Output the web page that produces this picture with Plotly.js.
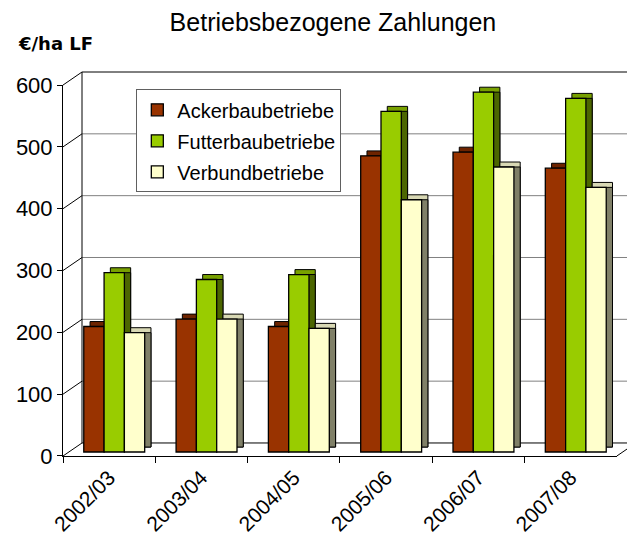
<!DOCTYPE html>
<html><head><meta charset="utf-8">
<script src="https://cdn.plot.ly/plotly-3.0.1.min.js"></script>
<style>html,body{margin:0;padding:0;background:#fff}#chart{width:627px;height:541px}</style>
</head><body><div id="chart"></div>
<script>
// ---- data ----
const categories = ['2002/03','2003/04','2004/05','2005/06','2006/07','2007/08'];
const ackerbau  = [203, 215, 203, 479, 485, 459];
const futterbau = [290, 279, 287, 551, 582, 572];
const verbund   = [193, 215, 200, 408, 461, 428];
const seriesNames = ['Ackerbaubetriebe','Futterbaubetriebe','Verbundbetriebe'];
const yTicks = [0, 100, 200, 300, 400, 500, 600];

// ---- styling ----
const series = [ackerbau, futterbau, verbund];
const frontColors = ['#993300','#99cc00','#ffffcc'];
const topColors   = ['#6e2400','#78a000','#d8d8b4'];
const sideColors  = ['#5a1e00','#4c6600','#808068'];
const offsets = [-0.275, -0.055, 0.165];
const W = 0.22, DX = 0.068, DY = 8;
const FONT = '"Liberation Sans", Arial, sans-serif';

const traces = [];
// invisible trace on the labelled front axis so that the axis is drawn
traces.push({type:'scatter', x:categories, y:ackerbau, mode:'markers', marker:{opacity:0},
  xaxis:'x', yaxis:'y', showlegend:false, hoverinfo:'skip'});
series.forEach((vals, i) => {
  traces.push({type:'bar', x:categories, y:vals, base:DY, offset:offsets[i]+DX, width:W,
    marker:{color:topColors[i], line:{color:'#000', width:1}},
    yaxis:'y2', showlegend:false, hoverinfo:'skip'});
  traces.push({type:'bar', x:categories, y:vals.map(v => v - DY), base:DY, offset:offsets[i]+DX, width:W,
    marker:{color:sideColors[i], line:{color:'#000', width:1}},
    yaxis:'y2', showlegend:false, hoverinfo:'skip'});
});
series.forEach((vals, i) => {
  traces.push({type:'bar', name:seriesNames[i], legendgroup:'g'+i, x:categories, y:vals, base:0,
    offset:offsets[i], width:W,
    marker:{color:frontColors[i], line:{color:'#000', width:1.3}},
    yaxis:'y2'});
});

// wall geometry (fractions of plot area)
const FRONT_X1 = 0.982, BACK_X0 = 0.0337, BACK_Y0 = 0.0339, FRONT_YTOP = 0.966;
const backY = v => BACK_Y0 + v/600*(1-BACK_Y0);
const shapes = [];
yTicks.forEach(v => shapes.push({type:'line', xref:'paper', yref:'paper', layer:'below',
  x0:BACK_X0, x1:1.05, y0:backY(v), y1:backY(v),
  line:{color:(v === 0 || v === 600) ? '#000' : '#808080', width:1}}));
shapes.push({type:'line', xref:'paper', yref:'paper', layer:'below',
  x0:BACK_X0, x1:BACK_X0, y0:backY(0), y1:backY(600), line:{color:'#000', width:1}});
yTicks.forEach(v => shapes.push({type:'line', xref:'paper', yref:'paper', layer:'below',
  x0:0, y0:v/600*FRONT_YTOP, x1:BACK_X0, y1:backY(v), line:{color:'#000', width:1}}));
shapes.push({type:'line', xref:'paper', yref:'paper', layer:'below', x0:FRONT_X1, y0:0,
  x1:FRONT_X1+BACK_X0, y1:BACK_Y0, line:{color:'#000', width:1}});

const layout = {
  width:627, height:541,
  margin:{l:63, r:0, t:72, b:85, autoexpand:false},
  paper_bgcolor:'#fff', plot_bgcolor:'rgba(0,0,0,0)',
  font:{family:FONT, color:'#000'},
  barmode:'overlay',
  hovermode:false,
  title:{text:'Betriebsbezogene Zahlungen', font:{family:FONT, size:25, color:'#000'},
    x:0.531, xref:'container', xanchor:'center', y:0.958, yref:'container', yanchor:'middle'},
  xaxis:{domain:[0, FRONT_X1], type:'category', range:[-0.5, 5.5], showline:true,
    linecolor:'#000', linewidth:1, ticks:'outside', ticklen:6, tickcolor:'#000', tickson:'boundaries',
    tickangle:-45, ticklabelstandoff:0, tickfont:{family:FONT, size:21, color:'#000'},
    showgrid:false, zeroline:false, fixedrange:true},
  yaxis:{domain:[0, FRONT_YTOP], range:[0,600], tickvals:yTicks, showline:true,
    linecolor:'#000', linewidth:1, ticks:'outside', ticklen:5, tickcolor:'#000',
    tickfont:{family:FONT, size:22, color:'#000'}, showgrid:false, zeroline:false, fixedrange:true},
  yaxis2:{overlaying:'y', range:[-6.5, 593.5], visible:false, fixedrange:true},
  legend:{x:0.13, y:0.955, xanchor:'left', yanchor:'top', bgcolor:'#fff', bordercolor:'#606060',
    borderwidth:1, font:{family:FONT, size:20, color:'#000'}, traceorder:'grouped', tracegroupgap:2},
  shapes:shapes,
  annotations:[{text:'<b>€/ha LF</b>', xref:'paper', yref:'paper', x:-0.083, y:1.0755,
    xanchor:'left', yanchor:'middle', showarrow:false,
    font:{family:'"DejaVu Sans", sans-serif', size:18, color:'#000'}}]
};

Plotly.newPlot('chart', traces, layout, {displayModeBar:false, staticPlot:true});
</script>
</body></html>
